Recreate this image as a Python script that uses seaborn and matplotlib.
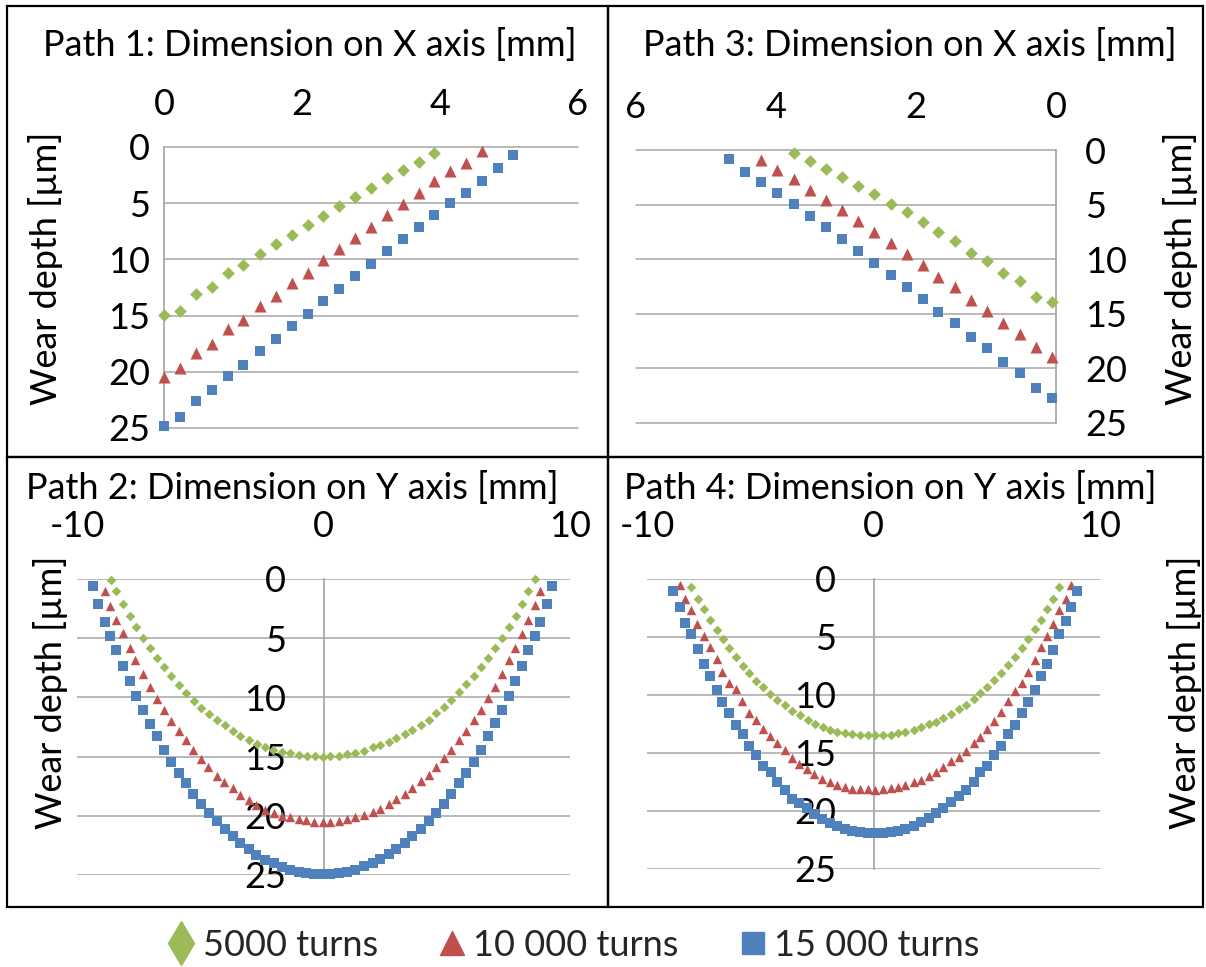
import matplotlib
matplotlib.use("Agg")
import matplotlib.pyplot as plt
from matplotlib.patches import Rectangle
from matplotlib.lines import Line2D
import seaborn as sns

# ---- data (x in mm, wear depth in um) ----
series_names = ["5000 turns", "10 000 turns", "15 000 turns"]
series_colors = ["#9BBB59", "#C0504D", "#4F81BD"]
series_markers = ["D", "^", "s"]

# Path 1: Dimension on X axis
p1_x_5000 = [0.00, 0.23, 0.47, 0.70, 0.93, 1.15, 1.39, 1.62, 1.85, 2.08, 2.31, 2.53, 2.77, 3.00, 3.23, 3.46, 3.69, 3.91]
p1_d_5000 = [14.94, 14.56, 13.05, 12.49, 11.24, 10.50, 9.53, 8.67, 7.81, 6.98, 6.12, 5.27, 4.41, 3.64, 2.78, 2.01, 1.30, 0.50]
p1_x_10000 = [0.00, 0.23, 0.47, 0.70, 0.93, 1.15, 1.39, 1.62, 1.85, 2.08, 2.31, 2.53, 2.77, 3.00, 3.23, 3.46, 3.69, 3.91, 4.15, 4.38, 4.61]
p1_d_10000 = [20.47, 19.70, 18.34, 17.49, 16.21, 15.36, 14.17, 13.22, 12.10, 11.18, 10.09, 9.08, 8.11, 7.13, 6.04, 5.09, 4.11, 3.05, 2.13, 1.42, 0.36]
p1_x_15000 = [0.00, 0.23, 0.47, 0.70, 0.93, 1.15, 1.39, 1.62, 1.85, 2.08, 2.31, 2.53, 2.77, 3.00, 3.23, 3.46, 3.69, 3.91, 4.15, 4.38, 4.61, 4.84, 5.06]
p1_d_15000 = [24.82, 23.99, 22.57, 21.66, 20.33, 19.38, 18.11, 17.10, 15.92, 14.82, 13.70, 12.63, 11.48, 10.44, 9.29, 8.22, 7.16, 6.04, 4.94, 4.11, 3.05, 1.89, 0.74]

# Path 3: Dimension on X axis (reversed axis)
p3_x_5000 = [3.75, 3.52, 3.29, 3.06, 2.83, 2.60, 2.36, 2.13, 1.90, 1.68, 1.44, 1.21, 0.99, 0.76, 0.52, 0.29, 0.06]
p3_d_5000 = [0.31, 0.98, 1.71, 2.44, 3.27, 4.06, 4.95, 5.71, 6.62, 7.51, 8.36, 9.43, 10.13, 11.29, 11.97, 13.43, 13.89]
p3_x_10000 = [4.21, 3.98, 3.75, 3.52, 3.29, 3.06, 2.83, 2.60, 2.36, 2.13, 1.90, 1.68, 1.44, 1.21, 0.99, 0.76, 0.52, 0.29, 0.06]
p3_d_10000 = [0.92, 1.86, 2.69, 3.63, 4.55, 5.46, 6.47, 7.51, 8.49, 9.49, 10.50, 11.60, 12.58, 13.71, 14.71, 15.81, 16.82, 18.07, 18.96]
p3_x_15000 = [4.67, 4.44, 4.21, 3.98, 3.75, 3.52, 3.29, 3.06, 2.83, 2.60, 2.36, 2.13, 1.90, 1.68, 1.44, 1.21, 0.99, 0.76, 0.52, 0.29, 0.06]
p3_d_15000 = [0.82, 2.01, 2.96, 3.91, 4.95, 6.04, 7.08, 8.15, 9.25, 10.35, 11.48, 12.55, 13.68, 14.84, 15.84, 17.09, 18.13, 19.44, 20.42, 21.79, 22.74]

# Path 2: Dimension on Y axis
p2_x_5000 = [-8.64, -8.41, -8.13, -7.86, -7.61, -7.32, -7.02, -6.75, -6.48, -6.18,
             -5.88, -5.56, -5.26, -4.96, -4.65, -4.34, -4.00, -3.69, -3.37, -3.04,
             -2.69, -2.37, -2.03, -1.69, -1.37, -1.01, -0.68, -0.34, -0.04,
             0.28, 0.64, 0.96, 1.29, 1.64, 1.99, 2.31, 2.64, 2.96, 3.29,
             3.61, 3.94, 4.26, 4.58, 4.88, 5.18, 5.50, 5.80, 6.12, 6.40,
             6.69, 6.96, 7.24, 7.51, 7.80, 8.04, 8.31, 8.56]
p2_d_5000 = [0.06, 1.04, 2.14, 3.10, 4.09, 4.99, 5.83, 6.65, 7.47, 8.23,
             8.96, 9.64, 10.29, 10.88, 11.44, 11.92, 12.37, 12.80, 13.22, 13.59,
             13.90, 14.15, 14.43, 14.60, 14.71, 14.83, 14.91, 14.97, 15.00,
             14.99, 14.91, 14.80, 14.66, 14.49, 14.23, 14.04, 13.75, 13.47, 13.13,
             12.74, 12.32, 11.87, 11.33, 10.77, 10.20, 9.58, 8.91, 8.17, 7.47,
             6.68, 5.83, 4.99, 4.03, 3.13, 2.14, 1.04, 0.00]
p2_x_10000 = [-8.88, -8.65, -8.41, -8.14, -7.87, -7.63, -7.33, -7.02, -6.77, -6.48,
              -6.18, -5.88, -5.59, -5.29, -4.96, -4.67, -4.34, -4.02, -3.69, -3.37,
              -3.04, -2.72, -2.37, -2.02, -1.69, -1.37, -1.01, -0.69, -0.37, -0.03,
              0.28, 0.64, 0.96, 1.29, 1.64, 1.99, 2.31, 2.64, 2.96, 3.29,
              3.61, 3.94, 4.26, 4.58, 4.88, 5.18, 5.50, 5.80, 6.12, 6.40,
              6.69, 6.96, 7.24, 7.51, 7.78, 8.04, 8.31, 8.56, 8.80]
p2_d_10000 = [0.99, 2.31, 3.44, 4.57, 5.83, 6.88, 8.03, 9.08, 10.12, 11.05,
              11.98, 12.88, 13.64, 14.43, 15.22, 15.92, 16.63, 17.14, 17.67, 18.21,
              18.66, 19.11, 19.50, 19.79, 20.01, 20.12, 20.24, 20.35, 20.49, 20.55,
              20.49, 20.41, 20.24, 20.10, 19.93, 19.67, 19.39, 19.00, 18.60, 18.15,
              17.64, 17.08, 16.52, 15.90, 15.16, 14.43, 13.64, 12.88, 11.95, 11.05,
              10.09, 9.08, 8.00, 6.88, 5.81, 4.62, 3.49, 2.17, 1.04]
p2_x_15000 = [-9.36, -9.15, -8.88, -8.65, -8.40, -8.13, -7.87, -7.61, -7.33, -7.02,
              -6.75, -6.48, -6.18, -5.88, -5.56, -5.29, -4.96, -4.65, -4.34, -4.00,
              -3.69, -3.37, -3.04, -2.72, -2.37, -2.02, -1.69, -1.37, -1.01, -0.69,
              -0.37, -0.03,
              0.28, 0.64, 0.96, 1.29, 1.64, 1.99, 2.31, 2.64, 2.96, 3.29,
              3.61, 3.94, 4.26, 4.58, 4.88, 5.18, 5.50, 5.80, 6.12, 6.40,
              6.69, 6.96, 7.24, 7.51, 7.78, 8.04, 8.31, 8.56, 8.80, 9.05, 9.29]
p2_d_15000 = [0.56, 2.09, 3.66, 4.79, 6.03, 7.33, 8.65, 9.86, 11.10, 12.23,
              13.30, 14.43, 15.42, 16.35, 17.25, 18.15, 19.00, 19.79, 20.41, 21.08,
              21.70, 22.32, 22.83, 23.31, 23.73, 24.01, 24.30, 24.58, 24.75, 24.86,
              24.92, 24.94,
              24.92, 24.86, 24.75, 24.58, 24.24, 23.96, 23.62, 23.22, 22.77, 22.32,
              21.70, 21.08, 20.41, 19.73, 19.00, 18.15, 17.25, 16.35, 15.42, 14.43,
              13.30, 12.18, 11.05, 9.86, 8.60, 7.33, 5.98, 4.79, 3.64, 2.09, 0.56]

# Path 4: Dimension on Y axis
p4_x_5000 = [-8.05, -7.77, -7.50, -7.22, -6.93, -6.65, -6.39, -6.08, -5.78, -5.49,
             -5.18, -4.86, -4.56, -4.24, -3.91, -3.59, -3.24, -2.91, -2.59, -2.23,
             -1.91, -1.59, -1.26, -0.94, -0.59, -0.23,
             0.08, 0.41, 0.77, 1.09, 1.41, 1.77, 2.09, 2.45, 2.77, 3.09,
             3.44, 3.77, 4.09, 4.42, 4.71, 5.03, 5.33, 5.65, 5.95, 6.24,
             6.57, 6.83, 7.12, 7.39, 7.68, 7.92, 8.21]
p4_d_5000 = [0.72, 1.73, 2.59, 3.52, 4.38, 5.19, 5.99, 6.74, 7.46, 8.13,
             8.79, 9.34, 9.91, 10.43, 10.89, 11.35, 11.76, 12.16, 12.51, 12.80,
             13.03, 13.20, 13.31, 13.40, 13.46, 13.49,
             13.49, 13.43, 13.43, 13.31, 13.20, 13.03, 12.80, 12.54, 12.31, 11.99,
             11.64, 11.24, 10.84, 10.35, 9.86, 9.31, 8.70, 8.07, 7.44, 6.69,
             5.99, 5.19, 4.32, 3.52, 2.59, 1.73, 0.72]
p4_x_10000 = [-8.56, -8.33, -8.06, -7.80, -7.50, -7.22, -6.93, -6.68, -6.39, -6.08,
              -5.80, -5.49, -5.18, -4.86, -4.56, -4.27, -3.91, -3.59, -3.27, -2.94,
              -2.62, -2.26, -1.94, -1.62, -1.26, -0.94, -0.59, -0.23, 0.08,
              0.41, 0.77, 1.09, 1.41, 1.77, 2.09, 2.45, 2.77, 3.09, 3.44,
              3.77, 4.09, 4.42, 4.71, 5.03, 5.33, 5.65, 5.95, 6.24, 6.57,
              6.83, 7.12, 7.39, 7.68, 7.92, 8.21, 8.48, 8.71]
p4_d_10000 = [0.49, 1.73, 2.71, 3.86, 4.90, 5.82, 6.92, 7.98, 8.93, 9.51,
              10.49, 11.53, 12.16, 12.97, 13.52, 14.12, 14.78, 15.39, 15.97, 16.40,
              16.83, 17.20, 17.52, 17.78, 17.95, 18.07, 18.13, 18.13, 18.16,
              18.10, 18.04, 17.93, 17.75, 17.52, 17.29, 16.97, 16.60, 16.20, 15.73,
              15.33, 14.81, 14.18, 13.60, 12.97, 12.22, 11.47, 10.52, 9.65, 8.93,
              7.98, 6.97, 5.82, 4.90, 3.86, 2.71, 1.73, 0.49]
p4_x_15000 = [-8.86, -8.56, -8.33, -8.05, -7.77, -7.50, -7.22, -6.93, -6.68, -6.39,
              -6.08, -5.78, -5.49, -5.18, -4.86, -4.53, -4.24, -3.91, -3.59, -3.27,
              -2.94, -2.62, -2.26, -1.94, -1.62, -1.26, -0.94, -0.59, -0.23, 0.08,
              0.41, 0.77, 1.09, 1.41, 1.77, 2.09, 2.45, 2.77, 3.09, 3.44,
              3.77, 4.09, 4.42, 4.71, 5.03, 5.33, 5.65, 5.95, 6.24, 6.57,
              6.83, 7.12, 7.39, 7.68, 7.92, 8.21, 8.48, 8.71, 8.98]
p4_d_15000 = [1.01, 2.45, 3.75, 4.73, 6.05, 7.32, 8.36, 9.57, 10.58, 11.59,
              12.62, 13.37, 14.41, 15.19, 16.14, 16.63, 17.52, 18.16, 18.96, 19.31,
              19.77, 20.23, 20.66, 21.04, 21.33, 21.56, 21.73, 21.82, 21.90, 21.93,
              21.90, 21.84, 21.73, 21.56, 21.27, 20.98, 20.58, 20.17, 19.71, 19.19,
              18.67, 18.16, 17.52, 16.66, 16.08, 15.19, 14.41, 13.37, 12.62, 11.59,
              10.58, 9.57, 8.36, 7.32, 6.11, 4.73, 3.66, 2.45, 1.01]

titles = ["Path 1: Dimension on X axis [mm]", "Path 3: Dimension on X axis [mm]",
          "Path 2: Dimension on Y axis [mm]", "Path 4: Dimension on Y axis [mm]"]
ylabel = "Wear depth [\u00b5m]"
depth_ticks = [0, 5, 10, 15, 20, 25]

# ---- style ----
sns.set_theme(style="white")
plt.rcParams['font.family'] = ['Lato', 'DejaVu Sans']
plt.rcParams['axes.unicode_minus'] = False
FS = 26
GRID = "#A6A6A6"

W, H = 1206, 967
fig = plt.figure(figsize=(W / 100, H / 100), dpi=100)


def px_axes(x0, y0, x1, y1):
    return fig.add_axes([x0 / W, 1 - y1 / H, (x1 - x0) / W, (y1 - y0) / H])


def fig_text(x, y, s, **kw):
    fig.text(x / W, 1 - y / H, s, fontsize=FS, color="black", **kw)


# chart frames
for (x0, y0, x1, y1) in [(7, 6, 608, 457), (608, 6, 1203, 457),
                         (7, 457, 608, 907), (608, 457, 1203, 907)]:
    fig.add_artist(Rectangle((x0 / W, 1 - y1 / H), (x1 - x0) / W, (y1 - y0) / H,
                             transform=fig.transFigure, fill=False,
                             edgecolor="black", lw=1.6))

ax1 = px_axes(164, 147, 578, 428)
ax3 = px_axes(636, 150, 1056, 423)
ax2 = px_axes(77, 579, 570, 875)
ax4 = px_axes(647, 579, 1100, 869)

panel_data = [
    (ax1, [(p1_x_5000, p1_d_5000), (p1_x_10000, p1_d_10000), (p1_x_15000, p1_d_15000)], [42, 75, 62]),
    (ax3, [(p3_x_5000, p3_d_5000), (p3_x_10000, p3_d_10000), (p3_x_15000, p3_d_15000)], [42, 75, 62]),
    (ax2, [(p2_x_5000, p2_d_5000), (p2_x_10000, p2_d_10000), (p2_x_15000, p2_d_15000)], [24, 46, 42]),
    (ax4, [(p4_x_5000, p4_d_5000), (p4_x_10000, p4_d_10000), (p4_x_15000, p4_d_15000)], [24, 46, 42]),
]

for ax, series, sizes in panel_data:
    for (xs, ds), col, mk, sz in zip(series, series_colors, series_markers, sizes):
        sns.scatterplot(x=xs, y=ds, ax=ax, marker=mk, color=col, s=sz,
                        linewidth=0, clip_on=False, zorder=3, legend=False)
    ax.set_ylim(25, 0)
    ax.set_yticks(depth_ticks)
    ax.yaxis.grid(True, color=GRID, lw=1.1)
    ax.xaxis.grid(False)
    ax.set_axisbelow(True)
    for gl in ax.get_ygridlines():
        gl.set_clip_on(False)
    for sp in ax.spines.values():
        sp.set_visible(False)
    ax.xaxis.tick_top()
    ax.set_xlabel("")
    ax.set_ylabel("")
    ax.tick_params(length=0, labelsize=FS, colors="black")
    ax.patch.set_alpha(0)

# Path 1
ax1.set_xlim(0, 6)
ax1.set_xticks([0, 2, 4, 6])
ax1.spines["left"].set_visible(True)
ax1.spines["left"].set_color(GRID)
ax1.tick_params(axis="x", pad=19)
ax1.tick_params(axis="y", pad=10)

# Path 3 (reversed, axis on the right)
ax3.set_xlim(6, 0)
ax3.set_xticks([6, 4, 2, 0])
ax3.yaxis.tick_right()
ax3.spines["right"].set_visible(True)
ax3.spines["right"].set_color(GRID)
ax3.tick_params(axis="x", pad=19)
ax3.tick_params(axis="y", pad=21)

# Path 2 / Path 4 (vertical axis through x = 0)
for ax in (ax2, ax4):
    ax.set_xlim(-10, 10)
    ax.set_xticks([-10, 0, 10])
    ax.spines["left"].set_visible(True)
    ax.spines["left"].set_position(("data", 0))
    ax.spines["left"].set_color(GRID)
    ax.tick_params(axis="x", pad=26)
    ax.tick_params(axis="y", pad=27)

# titles and axis labels
fig_text(310, 45, titles[0], ha="center", va="center")
fig_text(910, 45, titles[1], ha="center", va="center")
fig_text(292, 488, titles[2], ha="center", va="center")
fig_text(890, 488, titles[3], ha="center", va="center")
fig_text(46, 268, ylabel, ha="center", va="center", rotation=90)
fig_text(1180, 268, ylabel, ha="center", va="center", rotation=90)
fig_text(50, 692, ylabel, ha="center", va="center", rotation=90)
fig_text(1185, 692, ylabel, ha="center", va="center", rotation=90)

# legend
handles = [Line2D([], [], linestyle="none", marker=m, color=c, markersize=ms)
           for m, c, ms in zip(["d", "^", "s"], series_colors, [22, 17, 16])]
fig.legend(handles, series_names, loc="center", bbox_to_anchor=(574 / W, 1 - 945 / H),
           ncol=3, frameon=False, fontsize=FS, handlelength=0.7, handletextpad=0.25,
           columnspacing=1.7)

fig.savefig("out.png", dpi=100)
